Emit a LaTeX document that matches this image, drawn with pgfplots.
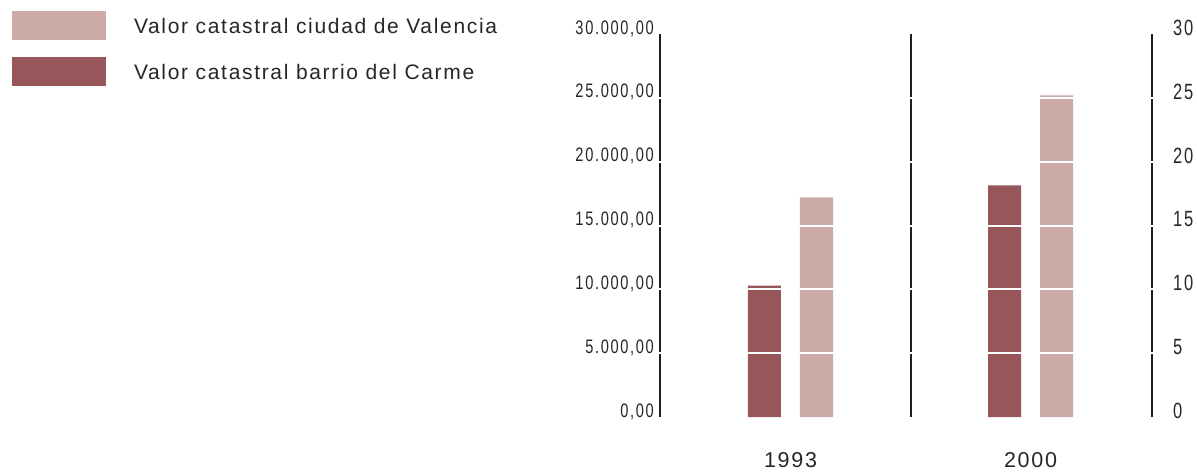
\documentclass[border=0pt]{standalone}
\usepackage{fontspec}
\usepackage{pgfplots}
\pgfplotsset{compat=1.18}
\setmainfont{Liberation Sans}
\newfontfamily\legfont[LetterSpace=8]{Liberation Sans}
\newfontfamily\condfont[FakeStretch=0.75,LetterSpace=8.5]{Liberation Sans}
\definecolor{valcol}{RGB}{204,170,168}
\definecolor{carcol}{RGB}{150,86,90}
\definecolor{axcol}{RGB}{30,30,30}
\begin{document}
\begin{tikzpicture}
\useasboundingbox (0,0) rectangle (1197pt,472pt);
\begin{axis}[
  at={(660pt,55pt)}, anchor=south west,
  scale only axis, width=492pt, height=383pt,
  xmin=0.45625, xmax=2.50625, ymin=0, ymax=30000,
  axis x line*=bottom, axis y line*=left,
  x axis line style={draw=none},
  y axis line style={axcol, line width=1.8pt},
  scaled y ticks=false,
  xtick={1,2}, xticklabels={1993,2000},
  ytick={0,5000,10000,15000,20000,25000,30000},
  yticklabels={{0,00},{5.000,00},{10.000,00},{15.000,00},{20.000,00},{25.000,00},{30.000,00}},
  major tick length=0pt,
  yticklabel style={font=\condfont\fontsize{19.5}{20}\selectfont, anchor=east, inner sep=0pt, xshift=-6pt, yshift=5.5pt, text=black!85},
  xticklabel style={font=\legfont\fontsize{21.5}{22}\selectfont, anchor=center, inner sep=0pt, yshift=-43pt, text=black!85},
  legend image code/.code={\fill[#1] (0pt,-14.5pt) rectangle (94pt,14.5pt);},
  legend style={at={(-1.317,1.0593)}, anchor=north west, draw=none, fill=none,
    inner sep=0pt, outer sep=0pt, column sep=28pt, row sep=17pt,
    font=\legfont\fontsize{21}{22}\selectfont, text=black!85,
    nodes={inner sep=0pt, text depth=0pt}},
  legend cell align=left,
  clip=false,
]
\addlegendimage{fill=valcol, draw=none}
\addlegendentry{Valor catastral ciudad de Valencia}
\addlegendimage{fill=carcol, draw=none}
\addlegendentry{Valor catastral barrio del Carme}
\addplot[ybar, bar width=33pt, bar shift=-26pt, fill=carcol, draw=none, forget plot]
  coordinates {(1,10300) (2,18150)};
\addplot[ybar, bar width=33pt, bar shift=26pt, fill=valcol, draw=none, forget plot]
  coordinates {(1,17200) (2,25200)};
\draw[axcol, line width=1.8pt] (axis cs:1.502,0) -- (axis cs:1.502,30000);
\end{axis}
\begin{axis}[
  at={(660pt,55pt)}, anchor=south west,
  scale only axis, width=492pt, height=383pt,
  xmin=0.45625, xmax=2.50625, ymin=0, ymax=30,
  axis x line=none, axis y line*=right,
  y axis line style={axcol, line width=1.8pt},
  ytick={0,5,10,15,20,25,30},
  yticklabels={0,5,10,15,20,25,30},
  major tick length=0pt,
  yticklabel style={font=\condfont\fontsize{22}{22}\selectfont, anchor=west, inner sep=0pt, xshift=21pt, yshift=6pt, text=black!85},
  clip=false,
]
\addplot[white, line width=2pt] coordinates {(0.44,5) (2.52,5)};
\addplot[white, line width=2pt] coordinates {(0.44,10) (2.52,10)};
\addplot[white, line width=2pt] coordinates {(0.44,15) (2.52,15)};
\addplot[white, line width=2pt] coordinates {(0.44,20) (2.52,20)};
\addplot[white, line width=2pt] coordinates {(0.44,25) (2.52,25)};
\end{axis}
\end{tikzpicture}
\end{document}
